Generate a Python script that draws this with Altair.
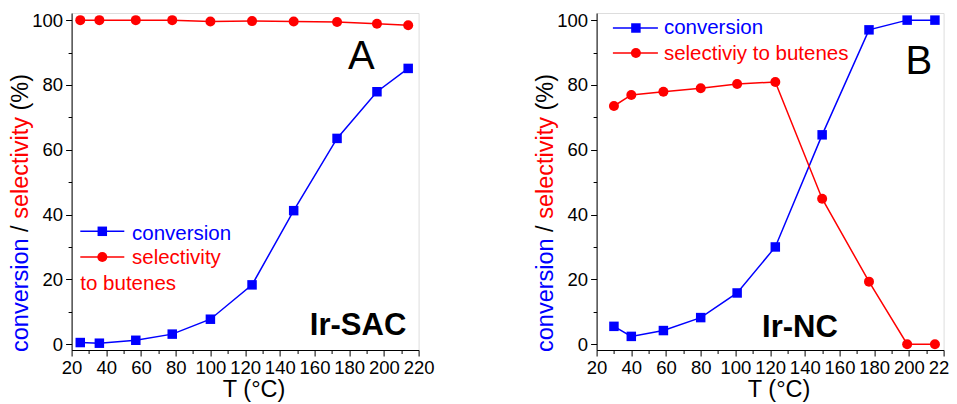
import altair as alt
import pandas as pd

# ---------------- data ----------------
T_A = [25, 36, 57, 78, 100, 124, 148, 173, 196, 214]
conv_A = [0.5, 0.3, 1.2, 3.1, 7.7, 18.3, 41.2, 63.5, 77.9, 85.1]
sel_A = [100, 100, 100, 100, 99.6, 99.7, 99.6, 99.4, 98.9, 98.4]

T_B = [30, 40, 58.5, 80, 101, 123, 150, 177, 199, 215]
conv_B = [5.5, 2.4, 4.2, 8.2, 15.8, 30.0, 64.6, 97.0, 100, 100]
sel_B = [73.5, 76.9, 77.9, 79.0, 80.3, 80.9, 44.9, 19.3, 0, 0]

x_major = [20, 40, 60, 80, 100, 120, 140, 160, 180, 200, 220]
x_minor = [30, 50, 70, 90, 110, 130, 150, 170, 190, 210]
y_major = [0, 20, 40, 60, 80, 100]
y_minor = [10, 30, 50, 70, 90]

FONT = "Liberation Sans"
BLUE = "#0000ff"
RED = "#ff0000"
W, H = 347, 337
XDOM = [20, 220]
YDOM = [-1.8, 102.2]

one = pd.DataFrame({"k": [0]})


def txt(s, x, y, color="black", size=20.5, align="left", weight="normal",
        angle=0, baseline="alphabetic"):
    kw = dict(text=s, font=FONT, fontSize=size, color=color, align=align,
              baseline=baseline, fontWeight=weight)
    if angle:
        kw["angle"] = angle
    return alt.Chart(one).mark_text(**kw).encode(x=alt.value(x), y=alt.value(y))


def panel(T, conv, sel, legend, letter, letter_xy, name, name_xy):
    df = pd.DataFrame({"T": T, "conv": conv, "sel": sel})
    xs = alt.Scale(domain=XDOM, nice=False, zero=False)
    ys = alt.Scale(domain=YDOM, nice=False, zero=False)
    common = dict(labelFont=FONT, labelColor="black", tickColor="black",
                  domainColor="black", grid=False, labelFontSize=18.5)
    xax = alt.Axis(values=x_major, title="T (°C)", orient="bottom", tickSize=6,
                   labelPadding=2, titleFont=FONT, titleFontSize=23.5,
                   titleFontWeight="normal", titleColor="black",
                   titleX=182, titleY=46, titleAlign="center",
                   titleBaseline="alphabetic", labelFlush=False,
                   labelOverlap=False, **common)
    yax = alt.Axis(values=y_major, title=None, orient="left", tickSize=6,
                   labelPadding=3, **common)
    xmin = alt.Axis(values=x_minor, labels=False, title=None, orient="bottom",
                    tickSize=3.5, domain=False, tickColor="black", grid=False)
    ymin = alt.Axis(values=y_minor, labels=False, title=None, orient="left",
                    tickSize=3.5, domain=False, tickColor="black", grid=False)

    base = alt.Chart(df)
    conv_line = base.mark_line(color=BLUE, strokeWidth=1.5).encode(
        x=alt.X("T:Q", scale=xs, axis=xax), y=alt.Y("conv:Q", scale=ys, axis=yax))
    conv_pts = base.mark_point(shape="square", filled=True, size=90, color=BLUE,
                               opacity=1).encode(
        x=alt.X("T:Q", scale=xs, axis=None), y=alt.Y("conv:Q", scale=ys, axis=None))
    sel_line = base.mark_line(color=RED, strokeWidth=1.5).encode(
        x=alt.X("T:Q", scale=xs, axis=None), y=alt.Y("sel:Q", scale=ys, axis=None))
    sel_pts = base.mark_point(shape="circle", filled=True, size=100, color=RED,
                              opacity=1).encode(
        x=alt.X("T:Q", scale=xs, axis=None), y=alt.Y("sel:Q", scale=ys, axis=None))
    minor = base.mark_point(opacity=0).encode(
        x=alt.X("T:Q", scale=xs, axis=xmin), y=alt.Y("conv:Q", scale=ys, axis=ymin))

    layers = [minor, conv_line, sel_line, conv_pts, sel_pts]

    # legend
    (lx1, lx2, mx, y1, y2, tx, tb1, tb2, extra) = legend
    layers.append(alt.Chart(one).mark_rule(color=BLUE, strokeWidth=1.5).encode(
        x=alt.value(lx1), x2=alt.value(lx2), y=alt.value(y1)))
    layers.append(alt.Chart(one).mark_rule(color=RED, strokeWidth=1.5).encode(
        x=alt.value(lx1), x2=alt.value(lx2), y=alt.value(y2)))
    layers.append(alt.Chart(one).mark_point(shape="square", filled=True, size=90,
                                            color=BLUE, opacity=1).encode(
        x=alt.value(mx), y=alt.value(y1)))
    layers.append(alt.Chart(one).mark_point(shape="circle", filled=True, size=100,
                                            color=RED, opacity=1).encode(
        x=alt.value(mx), y=alt.value(y2)))
    layers.append(txt("conversion", tx, tb1, BLUE))
    layers.append(txt(extra[0], tx, tb2, RED))
    if extra[1]:
        layers.append(txt(extra[1], lx1, extra[2], RED))

    # panel letter and sample name
    layers.append(txt(letter, letter_xy[0], letter_xy[1], size=40, align="center"))
    layers.append(txt(name, name_xy[0], name_xy[1], size=31, align="right",
                      weight="bold"))

    # multi-coloured y title (rotated)
    tX = -43.8
    layers.append(txt("conversion", tX, 339, BLUE, 23.5, angle=270))
    layers.append(txt("/", tX, 218.9, "black", 23.5, angle=270))
    layers.append(txt("selectivity", tX, 205.8, RED, 23.5, angle=270))
    layers.append(txt("(%)", tX, 97.5, "black", 23.5, angle=270))

    return alt.layer(*layers).properties(width=W, height=H).resolve_axis(
        x="independent", y="independent")


left = panel(T_A, conv_A, sel_A,
             (8.7, 52.7, 30.7, 218.3, 244, 60.4, 227.3, 250.7,
              ("selectivity", "to butenes", 276.7)),
             "A", (289.7, 56), "Ir-SAC", (334.7, 322))
right = panel(T_B, conv_B, sel_B,
              (16.3, 61.3, 39.3, 15, 40, 67.3, 21, 46.7,
               ("selectiviy to butenes", None, 0)),
              "B", (322.3, 61), "Ir-NC", (241.3, 324))

# fixed 941 x 388 drawing surface (page 957 x 404 minus 8px margins);
# the first panel's plot area starts at the padding origin
PL, PT = 63.6, 5
chart = alt.hconcat(left, right, spacing=98).properties(
    autosize=alt.AutoSizeParams(type="none"),
    padding={"left": PL, "top": PT, "right": 941 - PL, "bottom": 388 - PT},
).configure_view(stroke="black", strokeWidth=1.2).configure(background="white")

chart.save("out.html", embed_options={"renderer": "svg", "actions": False})
